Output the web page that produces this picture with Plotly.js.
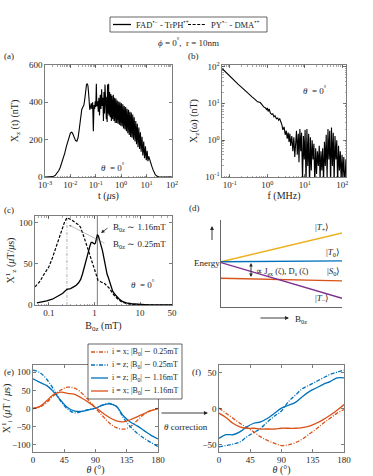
<!DOCTYPE html>
<html>
<head>
<meta charset="utf-8">
<script src="https://cdn.plot.ly/plotly-3.0.1.min.js"></script>
<style>
  html, body { margin: 0; padding: 0; background: #fff; }
  #plot { width: 373px; height: 476px; }
</style>
</head>
<body>
<div id="plot"></div>
<script>
// (a) X_z(t) in nT, FAD-TrPH, theta = 0
var tA = [
  0.001, 0.0015, 0.002, 0.0025, 0.003, 0.0035, 0.004, 0.005, 0.006, 0.007,
  0.008, 0.009, 0.010, 0.011, 0.012, 0.013, 0.014, 0.016, 0.018, 0.020,
  0.022, 0.025, 0.028, 0.031, 0.034, 0.037, 0.040, 0.043, 0.046, 0.049,
  0.052, 0.055, 0.058, 0.062, 0.066, 0.070, 0.075, 0.080, 0.085, 0.090,
  0.095, 0.100, 0.105, 0.110, 0.118, 0.125, 0.132, 0.140, 0.150, 0.160,
  0.170, 0.180, 0.190, 0.200, 0.210, 0.220, 0.230, 0.240, 0.250, 0.260,
  0.270, 0.280, 0.290, 0.300, 0.320, 0.330, 0.350, 0.370, 0.390, 0.410,
  0.430, 0.460, 0.490, 0.520, 0.550, 0.580, 0.620, 0.660, 0.700, 0.750,
  0.800, 0.850, 0.900, 0.960, 1.02, 1.09, 1.16, 1.24, 1.32, 1.41,
  1.50, 1.60, 1.70, 1.82, 1.94, 2.07, 2.20, 2.35, 2.50, 2.67,
  2.85, 3.05, 3.25, 3.50, 3.75, 4.00, 4.30, 4.60, 4.95, 5.30,
  5.70, 6.10, 6.60, 7.10, 7.70, 8.30, 9.00, 9.70, 10.5, 11.3,
  12.2, 13.0, 14.5, 16.0, 18.0, 20.0, 22.0, 25.0, 30.0, 40.0,
  100
];
var xzA = [
  0, 0, 2, 8, 20, 35, 52, 90, 128, 165,
  195, 220, 235, 240, 236, 225, 210, 195, 192, 210,
  250, 320, 362, 375, 385, 420, 470, 495, 500, 490,
  450, 390, 360, 375, 395, 365, 400, 245, 385, 365,
  405, 375, 500, 380, 405, 350, 425, 330, 440, 365,
  470, 380, 425, 300, 455, 340, 495, 360, 445, 310,
  430, 295, 495, 340, 500, 330, 455, 320, 445, 300,
  435, 310, 440, 300, 425, 290, 420, 290, 410, 285,
  405, 280, 400, 275, 395, 270, 390, 260, 380, 255,
  375, 245, 365, 235, 360, 225, 350, 215, 345, 210,
  335, 200, 320, 190, 300, 175, 285, 160, 265, 150,
  240, 135, 215, 115, 190, 100, 165, 90, 140, 85,
  110, 95, 75, 58, 38, 22, 12, 5, 1, 0,
  0
];

// (b) X_z(omega) in nT against f in MHz
var fB = [
  0.063, 0.07, 0.08, 0.09, 0.10, 0.12, 0.14, 0.17, 0.20, 0.24,
  0.28, 0.33, 0.39, 0.46, 0.55, 0.65, 0.72, 0.80, 0.88, 0.95,
  1.0, 1.05, 1.12, 1.2, 1.3, 1.4, 1.5, 1.6, 1.75, 1.9,
  2.0, 2.15, 2.3, 2.45, 2.6, 2.8, 3.0, 3.2, 3.4, 3.6,
  3.8, 4.0, 4.2, 4.5, 4.8, 5.1, 5.4, 5.7, 6.0, 6.3,
  6.7, 7.0, 7.4, 7.8, 8.2, 8.7, 9.2, 9.7, 10.2, 10.8,
  11.4, 12, 12.7, 13.4, 14.1, 14.9, 15.7, 16.6, 17.5, 18.5,
  19.5, 20.6, 21.7, 23, 24.3, 25.6, 27, 28.5, 30, 31.7,
  33.5, 35.3, 37.3, 39.4, 41.6, 43.9, 46.3, 48.9, 51.6, 54.5,
  57.5, 60.7, 64, 67.6, 71.4, 75.3, 79.5, 84, 88.6, 93.5,
  98.7, 104, 110, 117, 125
];
var xzB = [
  87, 78, 68, 60, 54, 45, 39, 32, 28, 24,
  21, 18, 15, 13, 11, 10.5, 9, 8, 7.6, 6.8,
  7.5, 6.0, 7.0, 5.5, 5.0, 5.2, 4.3, 4.6, 3.8, 4.0,
  3.5, 3.8, 3.1, 2.6, 1.9, 2.3, 1.4, 1.8, 1.1, 1.6,
  0.9, 1.5, 0.7, 1.3, 0.5, 1.2, 0.35, 1.0, 1.8, 0.4,
  1.5, 0.25, 2.0, 0.5, 1.6, 0.08, 1.3, 0.3, 1.9, 0.06,
  2.0, 0.2, 1.5, 0.05, 1.2, 0.15, 1.0, 0.3, 0.8, 0.06,
  0.6, 0.12, 0.5, 0.2, 0.7, 0.08, 0.5, 0.15, 0.6, 0.07,
  0.9, 0.2, 1.4, 0.09, 2.0, 0.3, 1.8, 0.06, 2.2, 0.2,
  1.6, 0.07, 1.3, 0.3, 1.0, 0.06, 0.7, 0.15, 0.5, 0.08,
  0.4, 0.1, 0.35, 0.05, 0.3
];

// (c) X^1_z in uT/us against B0z in mT
var bFad = [
  0.055, 0.07, 0.09, 0.12, 0.15, 0.2, 0.25, 0.3, 0.35, 0.4,
  0.45, 0.5, 0.55, 0.6, 0.65, 0.7, 0.75, 0.8, 0.85, 0.9,
  0.95, 1.0, 1.05, 1.1, 1.16, 1.22, 1.3, 1.4, 1.5, 1.6,
  1.7, 1.8, 1.9, 2.0, 2.2, 2.5, 2.8, 3.2, 3.6, 4.2,
  5, 6.5, 8, 10, 15, 25, 50
];
var fadC = [
  2.5, 3.5, 5, 7, 10, 14, 19, 20, 22, 24,
  27, 31, 38, 45, 52, 59, 66, 72, 76, 76,
  75, 74, 75, 80, 85, 84, 79, 72, 66, 58,
  50, 42, 37, 34, 27, 17, 13, 9, 6.5, 4,
  2.5, 1.5, 1, 0.5, 0.2, 0, 0
];
var bPy = [
  0.05, 0.065, 0.076, 0.088, 0.1, 0.12, 0.14, 0.165, 0.19, 0.22,
  0.25, 0.28, 0.32, 0.36, 0.41, 0.46, 0.5, 0.56, 0.62, 0.7,
  0.79, 0.9, 1.0, 1.1, 1.2, 1.4, 1.67, 1.9, 2.15, 2.45,
  2.76, 3.3, 3.9, 5, 6, 8, 12, 20, 50
];
var pyC = [
  22, 29, 36, 41, 46, 57, 68, 79, 90, 100,
  106, 105, 103, 101, 99, 97, 94, 87, 79, 70,
  61, 51, 42, 35, 30, 28, 26, 23, 20, 15,
  11, 7, 4, 2, 1, 0.4, 0.1, 0, 0
];
var bMarks = [0.25, 1.16];

// (d) schematic energy levels against B0z
var fieldD = [0, 1];
var levelTplus = [0.52, 0.85];
var levelT0 = [0.52, 0.53];
var levelS0 = [0.33, 0.30];
var levelTminus = [0.51, 0.10];

// (e), (f) X^1_i against theta, before and after the theta correction
var thetaDeg = [0, 10, 20, 30, 40, 50, 60, 70, 80, 90, 100, 110, 120, 130, 140, 150, 160, 170, 180];
var eXLow  = [0, 4, 17, 36, 51, 59, 56, 43, 23, 1, -20, -40, -53, -57, -50, -33, -16, -5, 0];
var eZLow  = [106, 99, 80, 52, 20, -2, -12, -8, -3, 1, 9, 14, 6, -25, -50, -68, -82, -94, -105];
var eZHigh = [82, 72, 63, 45, 22, 2, -7, -8, -4, 1, 9, 13, 6, -20, -37, -48, -61, -74, -84];
var eXHigh = [0, 6, 22, 39, 45, 42, 39, 29, 17, 3, -12, -25, -34, -37, -31, -23, -14, -6, 0];
var fXLow  = [1, -6, -13, -20, -26, -32, -39, -44, -48, -51, -50, -47, -42, -35, -28, -20, -13, -6, -1];
var fZLow  = [-53, -51, -49, -46, -39, -33, -27, -18, -10, -3, 10, 19, 28, 33, 38, 43, 48, 51, 54];
var fZHigh = [-41, -36, -36, -32, -25, -20, -18, -13, -6, 1, 5, 9, 17, 24, 29, 34, 38, 43, 43];
var fXHigh = [-6, -12, -20, -25, -27, -27, -28, -28, -28, -27, -27, -27, -26, -24, -20, -15, -9, -2, 6];

var seriesNames = [
  "i = x; |B<sub>0</sub>| \u223c 0.25mT",
  "i = z; |B<sub>0</sub>| \u223c 0.25mT",
  "i = z; |B<sub>0</sub>| \u223c 1.16mT",
  "i = x; |B<sub>0</sub>| \u223c 1.16mT"
];

var W = 373, H = 476;
var SERIF = "Liberation Serif, Times New Roman, serif";
var INK = "#262626";
var BLUE = "#0072BD", ORANGE = "#D95319", YELLOW = "#EDB120", PURPLE = "#7E2F8E";
var DASH = "3px,1.6px";
var DASHDOT = "4px,1.5px,1px,1.5px";

function px(x) { return x / W; }
function py(y) { return 1 - y / H; }

function axis(opts) {
  var a = {
    showline: true, mirror: "ticks", linecolor: INK, linewidth: 0.6,
    ticks: "inside", ticklen: 3, tickwidth: 0.6, tickcolor: INK,
    showgrid: false, zeroline: false, fixedrange: true,
    tickfont: { family: SERIF, size: 9, color: INK }
  };
  for (var k in opts) a[k] = opts[k];
  return a;
}
function axTitle(text, standoff) {
  return { text: text, standoff: standoff, font: { family: SERIF, size: 10, color: INK } };
}
var logMinor = { ticks: "inside", ticklen: 1.5, tickwidth: 0.4, tickcolor: INK, dtick: "D1" };

function line(x, y, xa, ya, color, dash, width, name) {
  return {
    x: x, y: y, xaxis: xa, yaxis: ya, type: "scatter", mode: "lines", name: name || "",
    line: { color: color, width: width || 1.2, dash: dash || "solid" },
    hoverinfo: "skip", showlegend: false
  };
}

var traces = [
  line(tA, xzA, "x", "y", "#000", "solid", 1.1, "FAD-TrPH"),
  line(fB, xzB, "x2", "y2", "#000", "solid", 1.1, "FAD-TrPH"),
  line([bMarks[0], bMarks[0]], [0, 120], "x3", "y3", "#8c8c8c", "3px,1.5px,1px,1.5px", 0.7),
  line([bMarks[1], bMarks[1]], [0, 120], "x3", "y3", "#6e6e6e", "solid", 0.9),
  line(bPy, pyC, "x3", "y3", "#000", DASH, 1.2, "PY-DMA"),
  line(bFad, fadC, "x3", "y3", "#000", "solid", 1.3, "FAD-TrPH"),
  line(fieldD, levelTplus, "x4", "y4", YELLOW, "solid", 1.4, "T+"),
  line(fieldD, levelT0, "x4", "y4", BLUE, "solid", 1.4, "T0"),
  line(fieldD, levelS0, "x4", "y4", ORANGE, "solid", 1.4, "S0"),
  line(fieldD, levelTminus, "x4", "y4", PURPLE, "solid", 1.4, "T-")
];
var eSets = [[eXLow, ORANGE, DASHDOT], [eZLow, BLUE, DASHDOT], [eZHigh, BLUE, "solid"], [eXHigh, ORANGE, "solid"]];
var fSets = [[fXLow, ORANGE, DASHDOT], [fZLow, BLUE, DASHDOT], [fZHigh, BLUE, "solid"], [fXHigh, ORANGE, "solid"]];
eSets.forEach(function (s, i) {
  var t = line(thetaDeg, s[0], "x5", "y5", s[1], s[2], 1.3, seriesNames[i]);
  t.line.shape = "spline";
  traces.push(t);
});
fSets.forEach(function (s, i) {
  var t = line(thetaDeg, s[0], "x6", "y6", s[1], s[2], 1.3, seriesNames[i]);
  t.line.shape = "spline";
  traces.push(t);
});

function powTicks(lo, hi) {
  var v = [], t = [];
  for (var p = lo; p <= hi; p++) { v.push(Math.pow(10, p)); t.push("10<sup>" + p + "</sup>"); }
  return { tickmode: "array", tickvals: v, ticktext: t };
}

function note(text, x, y, opts) {
  var a = {
    text: text, x: px(x), y: py(y), xref: "paper", yref: "paper", showarrow: false,
    xanchor: "center", yanchor: "middle", font: { family: SERIF, size: 9, color: INK }
  };
  for (var k in opts) a[k] = opts[k];
  return a;
}
function arrow(x0, y0, x1, y1, opts) {
  var a = {
    text: " ", x: px(x1), y: py(y1), xref: "paper", yref: "paper", showarrow: true,
    ax: x0 - x1, ay: y0 - y1, arrowhead: 2, arrowsize: 0.9, arrowwidth: 0.8,
    arrowcolor: INK, standoff: 0, startstandoff: 0, font: { size: 1 }
  };
  for (var k in opts) a[k] = opts[k];
  return a;
}
function seg(x0, y0, x1, y1, color, dash, width) {
  return {
    type: "line", xref: "paper", yref: "paper", x0: px(x0), y0: py(y0), x1: px(x1), y1: py(y1),
    line: { color: color, dash: dash, width: width }
  };
}
function box(x0, y0, x1, y1) {
  return {
    type: "rect", xref: "paper", yref: "paper", x0: px(x0), y0: py(y0), x1: px(x1), y1: py(y1),
    line: { color: INK, width: 0.7 }, fillcolor: "#fff", layer: "above"
  };
}

var theta0 = "<i>\u03b8</i>  = 0<sup>\u00b0</sup>";

var annotations = [
  note("<i>\u03d5</i> = 0<sup>\u00b0</sup>,  r = 10nm", 188, 42),
  note("FAD<sup>\u2022\u2212</sup> - TrPH<sup>\u2022+</sup>", 134, 24.5, { xanchor: "left", font: { family: SERIF, size: 8.5, color: INK } }),
  note("PY<sup>\u2022\u2212</sup> - DMA<sup>\u2022+</sup>", 209, 24.5, { xanchor: "left", font: { family: SERIF, size: 8.5, color: INK } }),
  note("(a)", 2, 56, { xanchor: "left" }),
  note("(b)", 186, 56, { xanchor: "left" }),
  note("(c)", 2, 210, { xanchor: "left" }),
  note("(d)", 187, 208, { xanchor: "left" }),
  note("(e)", 2, 372, { xanchor: "left" }),
  note("(f)", 190, 372, { xanchor: "left" }),
  note(theta0, 113, 167),
  note(theta0, 315, 90),
  note(theta0, 143, 284),
  arrow(109, 227, 101, 233),
  note("B<sub>0z</sub> \u223c 1.16mT", 111, 227, { xanchor: "left" }),
  arrow(106, 244, 69, 225, { arrowcolor: "#777", arrowwidth: 0.5 }),
  note("B<sub>0z</sub> \u223c 0.25mT", 111, 245, { xanchor: "left" }),
  note("Energy", 207, 263),
  arrow(212, 242, 212, 226, { arrowwidth: 0.9 }),
  arrow(251, 279, 251, 263, { arrowside: "end+start", arrowwidth: 0.9, arrowsize: 0.8 }),
  note("\u221d J<sub>ex</sub> (\u03b6), D<sub>s</sub> (\u03b6)", 254, 271, { xanchor: "left", font: { family: SERIF, size: 8.5, color: INK } }),
  note("|<i>T</i><sub>+</sub>\u27e9", 322, 227),
  note("|<i>T</i><sub>0</sub>\u27e9", 333, 252),
  note("|<i>S</i><sub>0</sub>\u27e9", 333, 271),
  note("|<i>T</i><sub>\u2212</sub>\u27e9", 322, 298),
  arrow(259, 318, 289, 318, { arrowwidth: 0.9 }),
  note("B<sub>0z</sub>", 293, 319, { xanchor: "left" }),
  arrow(160, 413, 208, 413, { arrowwidth: 0.9 }),
  note("<i>\u03b8</i> correction", 162, 427, { xanchor: "left" })
];

var legRows = [352, 365, 378, 391];
var shapes = [
  box(110, 17, 267, 32),
  seg(113, 24.5, 131, 24.5, "#000", "solid", 1.3),
  seg(188, 24.5, 206, 24.5, "#000", DASH, 1.2),
  box(88, 344, 182, 399)
];
eSets.forEach(function (s, i) {
  shapes.push(seg(91, legRows[i], 108, legRows[i], s[1], s[2], 1.3));
  annotations.push(note(seriesNames[i], 110, legRows[i], { xanchor: "left", font: { family: SERIF, size: 8, color: INK } }));
});

var layout = {
  width: W, height: H,
  margin: { l: 0, r: 0, t: 0, b: 0 },
  paper_bgcolor: "#fff", plot_bgcolor: "#fff",
  showlegend: false,
  font: { family: SERIF, size: 9, color: INK },
  xaxis: axis(Object.assign({ type: "log", range: [-3, 2], domain: [px(45), px(172)], anchor: "y",
    minor: logMinor, title: axTitle("t (<i>\u03bc</i>s)", 2) }, powTicks(-3, 2))),
  yaxis: axis({ range: [0, 600], domain: [py(177), py(65)], anchor: "x", tickvals: [0, 200, 400, 600],
    title: axTitle("X<sub>z</sub> (t) (nT)", 8) }),
  xaxis2: axis(Object.assign({ type: "log", range: [-1.21, 2.1], domain: [px(222), px(346)], anchor: "y2",
    minor: logMinor, title: axTitle("f (MHz)", 2) }, powTicks(-1, 2))),
  yaxis2: axis(Object.assign({ type: "log", range: [-1, 2.04], domain: [py(177), py(65)], anchor: "x2",
    minor: logMinor, title: axTitle("X<sub>z</sub>(\u03c9) (nT)", 5) }, powTicks(-1, 2))),
  xaxis3: axis({ type: "log", range: [Math.log10(0.05), Math.log10(50)], domain: [px(35), px(172)], anchor: "y3",
    tickmode: "array", tickvals: [0.1, 1, 10, 50], ticktext: ["0.1", "1", "10", "50"],
    minor: logMinor, title: axTitle("B<sub>0z</sub> (mT)", 4) }),
  yaxis3: axis({ range: [0, 108], domain: [py(305), py(216)], anchor: "x3", tickvals: [0, 50, 100],
    title: axTitle("X<sup>1</sup><sub>z</sub> (<i>\u03bc</i>T/<i>\u03bc</i>s)", 2) }),
  xaxis4: { domain: [px(221), px(342)], range: [0, 1], anchor: "y4", showline: true, linecolor: INK, linewidth: 0.7,
    showticklabels: false, ticks: "", showgrid: false, zeroline: false, fixedrange: true },
  yaxis4: { domain: [py(307), py(220)], range: [0, 1], anchor: "x4", showline: true, linecolor: INK, linewidth: 0.7,
    showticklabels: false, ticks: "", showgrid: false, zeroline: false, fixedrange: true },
  xaxis5: axis({ range: [0, 180], domain: [px(33), px(158)], anchor: "y5", tickvals: [0, 45, 90, 135, 180],
    title: axTitle("<i>\u03b8</i> (\u00b0)", 1) }),
  yaxis5: axis({ range: [-120, 120], domain: [py(452), py(365)], anchor: "x5", tickvals: [-100, -50, 0, 50, 100],
    title: axTitle("X<sup>1</sup><sub>i</sub> (<i>\u03bc</i>T / <i>\u03bc</i>s)", 1) }),
  xaxis6: axis({ range: [0, 180], domain: [px(219), px(344)], anchor: "y6", tickvals: [0, 45, 90, 135, 180],
    title: axTitle("<i>\u03b8</i> (\u00b0)", 1) }),
  yaxis6: axis({ range: [-60, 61], domain: [py(452), py(365)], anchor: "x6", tickvals: [-50, 0, 50] }),
  shapes: shapes,
  annotations: annotations
};

Plotly.newPlot("plot", traces, layout, { staticPlot: true, displayModeBar: false });
</script>
</body>
</html>
